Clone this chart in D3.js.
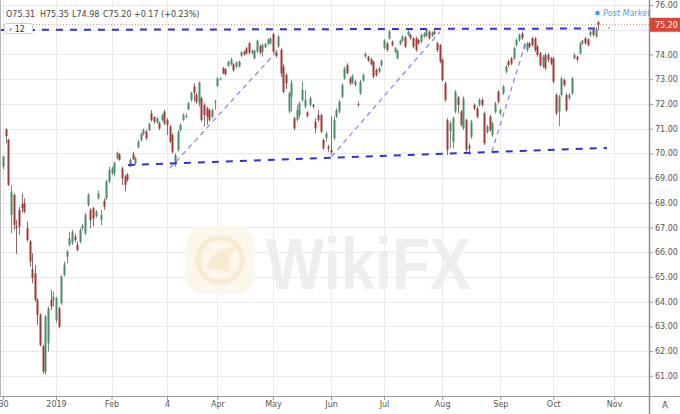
<!DOCTYPE html>
<html><head><meta charset="utf-8">
<script src="https://cdn.jsdelivr.net/npm/d3@7/dist/d3.min.js"></script>
<style>html,body{margin:0;padding:0;background:#fff;} svg{display:block;font-family:"DejaVu Sans",sans-serif;}</style>
</head><body><svg id="c" width="680" height="414"></svg>
<script>
// ---- data (bar index 0 = 30 Nov 2018, one bar per trading day) ----
const open = [
69.46,70.97,70.54,67.51,68.32,67.05,67.71,67.95,67.98,66.97,
66.43,65.31,65.15,64.07,63.46,62.19,61.17,62.32,64.07,64.07,
63.26,63.73,63.94,65.08,65.82,66.30,66.36,66.63,66.30,66.43,
66.97,66.77,67.91,67.71,67.78,67.47,68.18,67.31,68.09,68.18,
68.86,69.19,69.19,69.80,69.96,69.39,69.06,69.13,69.46,69.96,
69.60,70.24,70.54,70.78,70.88,70.94,71.62,71.46,71.24,71.21,
71.35,71.69,71.35,71.08,70.74,69.60,70.14,70.94,71.35,71.48,
71.78,72.16,72.70,72.36,72.02,72.23,71.96,71.82,71.75,71.48,
72.07,72.72,73.00,73.44,73.40,73.53,73.60,73.60,73.51,73.51,
73.95,74.11,74.25,74.45,74.05,73.84,74.11,74.34,74.11,74.29,
74.42,74.45,74.83,74.11,74.32,74.18,73.51,73.17,71.69,72.29,
71.42,71.35,71.55,72.16,71.89,71.65,71.96,71.96,71.28,71.55,
71.55,70.54,70.61,70.27,70.14,70.61,71.48,71.69,72.29,73.03,
73.57,73.03,72.86,72.76,71.99,72.43,72.94,73.91,73.91,73.80,
73.71,73.37,73.30,73.57,74.25,74.45,74.65,74.52,74.11,73.84,
74.42,74.56,74.69,74.79,74.79,74.65,74.65,74.58,74.52,74.72,
74.75,74.92,74.75,74.92,74.45,74.38,73.78,72.83,71.35,70.90,
70.47,71.69,72.27,71.69,71.01,71.35,70.30,70.67,71.96,71.82,
71.96,72.16,71.62,70.85,71.48,70.74,71.69,72.49,71.62,72.43,
73.30,73.71,73.84,73.84,74.38,74.58,74.85,74.25,74.18,74.45,
74.65,74.65,74.32,74.05,73.51,73.98,73.98,73.84,73.84,72.36,
71.69,72.36,72.97,72.36,72.23,72.43,73.84,73.91,74.05,74.45,
74.65,74.61,74.79,74.99,74.72,75.31];
const high = [
69.89,71.01,70.60,68.72,68.38,67.30,67.84,68.38,68.18,67.24,
66.50,65.96,65.49,64.14,63.53,62.25,63.46,63.80,64.47,64.40,
64.20,63.80,65.08,65.62,66.09,66.83,66.90,66.75,66.43,66.97,
67.15,67.58,68.38,67.78,67.84,67.71,68.49,67.71,68.18,68.92,
69.46,69.46,69.66,70.07,70.00,69.46,69.13,69.20,69.80,70.07,
69.87,70.54,70.85,71.00,70.95,71.24,71.75,71.50,71.46,71.28,
71.60,71.75,71.42,71.15,70.81,70.00,70.94,71.21,71.62,71.62,
72.09,72.49,72.83,72.45,72.90,72.29,72.02,71.89,71.80,71.82,
72.16,73.07,73.07,73.50,73.45,73.75,73.86,73.65,73.72,73.75,
74.12,74.16,74.30,74.50,74.20,74.20,74.60,74.40,74.45,74.47,
74.65,74.70,74.88,74.18,74.78,74.25,73.60,73.24,72.49,72.97,
71.48,71.96,72.09,72.90,72.56,71.70,72.30,72.00,71.42,71.75,
71.60,70.61,70.88,70.34,71.50,71.48,71.82,72.16,72.83,73.50,
73.64,73.10,73.20,72.97,72.09,72.97,73.24,74.09,73.95,73.86,
73.75,73.44,73.50,73.80,74.62,74.50,74.98,74.56,74.30,74.20,
74.60,74.78,74.75,74.98,74.85,74.70,74.72,74.65,74.85,74.90,
75.06,74.97,74.93,74.98,74.50,74.42,73.84,72.90,71.42,71.30,
71.48,72.56,72.32,71.75,72.30,71.40,70.40,71.35,72.02,71.89,
72.23,72.23,71.69,71.15,71.55,71.28,72.09,72.56,71.82,72.76,
73.57,73.78,73.90,74.30,74.65,74.85,74.92,74.45,74.50,74.50,
74.70,74.70,74.38,74.10,73.98,74.05,74.05,73.90,73.90,72.43,
72.36,73.10,73.03,72.43,72.43,73.10,74.05,73.95,74.50,74.60,
74.72,74.65,74.98,75.05,75.10,75.35];
const low = [
69.36,70.41,68.68,66.77,66.90,65.93,66.70,67.60,67.57,66.43,
65.42,64.74,64.00,63.06,62.19,61.10,61.04,61.98,63.66,63.80,
63.13,62.92,63.87,65.02,65.55,66.23,66.30,66.40,66.03,66.36,
66.90,66.70,67.84,66.97,67.04,67.40,68.14,67.10,67.71,68.11,
68.79,69.13,69.06,69.76,69.70,68.72,68.45,68.86,69.46,69.73,
69.53,70.20,70.47,70.72,70.54,70.90,71.28,71.20,71.20,70.94,
71.30,71.15,70.74,70.41,70.00,69.46,70.07,70.88,71.30,71.42,
71.75,72.09,72.09,72.00,71.89,71.28,71.08,71.15,71.28,71.42,
71.75,72.70,72.95,73.20,73.15,73.50,73.55,73.30,73.45,73.48,
73.90,73.95,74.00,74.00,74.00,73.80,74.05,74.00,73.91,74.25,
74.38,74.40,74.05,73.88,74.25,73.10,72.42,72.60,71.62,71.69,
70.94,71.28,71.42,72.09,71.82,71.45,71.90,71.82,70.81,71.28,
70.81,70.14,70.47,70.07,69.93,70.54,71.42,71.62,72.23,72.97,
73.20,72.76,72.80,72.70,71.89,72.36,72.90,73.86,73.70,73.55,
73.03,73.10,73.24,73.50,74.20,74.11,74.60,74.32,74.05,73.80,
74.38,74.50,74.25,74.74,74.60,74.25,74.11,74.40,74.45,74.68,
74.70,74.60,74.70,74.78,74.10,73.64,72.90,72.09,69.93,70.20,
70.20,71.62,71.62,71.08,70.94,70.07,69.93,70.60,71.75,71.42,
71.89,71.89,70.34,70.80,70.88,70.67,71.62,72.02,71.55,72.36,
73.24,73.50,73.57,73.78,74.32,74.52,74.60,74.20,74.11,74.25,
74.30,74.10,73.90,73.50,73.44,73.37,73.70,73.57,72.83,71.55,
71.10,72.29,72.70,71.69,72.16,72.36,73.80,73.70,73.98,74.40,
74.40,74.32,74.72,74.72,74.68,74.98];
const close = [
69.87,70.70,68.72,68.45,67.10,66.98,67.04,67.78,67.64,66.50,
65.62,64.95,64.07,63.46,62.25,61.17,63.40,63.73,63.80,64.20,
64.14,62.99,65.02,65.49,66.03,66.56,66.83,66.50,66.09,66.90,
67.06,67.51,68.32,67.31,67.37,67.64,68.38,67.51,67.84,68.86,
69.33,69.39,69.60,70.03,69.73,68.99,68.72,68.92,69.73,69.76,
69.80,70.47,70.78,70.95,70.61,71.19,71.35,71.28,71.42,71.01,
71.55,71.21,71.15,70.47,70.07,69.93,70.88,71.15,71.55,71.52,
72.02,72.45,72.45,72.09,72.86,71.35,71.55,71.48,71.35,71.75,
72.11,73.03,73.03,73.24,73.20,73.71,73.80,73.37,73.67,73.71,
74.09,74.00,74.05,74.07,74.15,74.15,74.56,74.07,74.38,74.42,
74.61,74.65,74.11,73.94,74.72,73.24,72.49,72.83,72.43,72.83,
71.01,71.75,72.02,72.56,72.16,71.51,72.23,71.89,71.01,71.35,
70.88,70.20,70.81,70.20,70.04,71.35,71.75,72.09,72.76,73.44,
73.24,72.83,73.13,72.90,71.96,72.90,73.17,74.02,73.75,73.61,
73.10,73.17,73.44,73.75,74.56,74.18,74.92,74.38,74.25,74.15,
74.56,74.72,74.32,74.92,74.65,74.32,74.18,74.45,74.79,74.85,
75.02,74.65,74.88,74.83,74.18,73.71,72.97,72.16,70.14,71.21,
71.42,72.49,71.96,71.15,72.23,70.14,70.20,71.28,71.82,71.48,
72.16,71.96,70.41,71.08,70.94,71.21,72.02,72.09,71.75,72.70,
73.51,73.57,73.64,74.25,74.58,74.79,74.65,74.38,74.45,74.32,
74.38,74.18,73.98,73.57,73.91,73.44,73.78,73.64,72.90,71.62,
72.29,73.03,72.76,71.75,72.36,73.03,73.98,73.80,74.45,74.56,
74.45,74.38,74.92,74.79,75.03,75.20];

const priceTicks = [61,62,63,64,65,66,67,68,69,70,71,72,73,74,75,76];
const timeTicks  = [0,20,41,62,81,102,124,144,166,188,208,231];
const timeLabels = ["30","2019","Feb","4","Apr","May","Jun","Jul","Aug","Sep","Oct","Nov"];
const resistance = [[-1.2,74.99],[224.9,75.05]];
const support    = [[47.2,69.53],[228.3,70.22]];
const swing1 = [[63.1,69.40],[103.4,74.11]];
const swing2 = [[124.2,69.87],[165.2,74.92]];
const swing3 = [[184.8,70.07],[197.7,74.52]];
const lastPrice = 75.20;
const headerText = ["O75.31","H75.35","L74.98","C75.20","+0.17 (+0.23%)"];

// ---- drawing ----
const svg = d3.select("#c");
const W = 680, H = 414, plotR = 649, plotB = 396;
const x = d3.scaleLinear().domain([0,231]).range([3.1,614.1]);
const y = d3.scaleLinear().domain([61,76]).range([375.8,5]);

svg.append("rect").attr("width",W).attr("height",H).attr("fill","#fff");
svg.append("defs").append("clipPath").attr("id","plot")
  .append("rect").attr("x",0).attr("y",0).attr("width",plotR).attr("height",plotB);

const plot = svg.append("g").attr("clip-path","url(#plot)");

// grid
plot.selectAll(".hg").data(priceTicks).join("line")
  .attr("x1",0).attr("x2",plotR).attr("y1",d=>Math.round(y(d))+0.5).attr("y2",d=>Math.round(y(d))+0.5)
  .attr("stroke","#eaeaea").attr("stroke-width",1);
plot.selectAll(".vg").data(timeTicks).join("line")
  .attr("y1",0).attr("y2",plotB).attr("x1",d=>Math.round(x(d))+0.5).attr("x2",d=>Math.round(x(d))+0.5)
  .attr("stroke","#eaeaea").attr("stroke-width",1);

// watermark
const wm = plot.append("g");
wm.append("rect").attr("x",186).attr("y",226).attr("width",68).attr("height",68).attr("rx",18)
  .attr("fill","#fdf6ea");
wm.append("circle").attr("cx",220).attr("cy",260).attr("r",22).attr("fill","none")
  .attr("stroke","#f8ebd3").attr("stroke-width",5);
wm.append("path").attr("d","M206,268 Q214,246 236,248 Q226,256 230,272 Z").attr("fill","#f8ebd3");
wm.append("text").attr("x",266).attr("y",289).attr("font-family","'Liberation Sans',Arial,sans-serif")
  .attr("font-weight","bold").attr("font-size",72).attr("fill","#eeeeee")
  .attr("textLength",205).attr("lengthAdjust","spacingAndGlyphs").text("WikiFX");

// last price dotted line
plot.append("line").attr("x1",0).attr("x2",plotR).attr("y1",y(lastPrice)).attr("y2",y(lastPrice))
  .attr("stroke","#e0806f").attr("stroke-width",1).attr("stroke-dasharray","1,2");

// candles
const idx = d3.range(open.length);
const up = i => close[i] >= open[i];
const green = "#4b8c69", red = "#a03a36";
plot.selectAll(".wick").data(idx).join("line")
  .attr("x1",i=>Math.round(x(i))+0.5).attr("x2",i=>Math.round(x(i))+0.5)
  .attr("y1",i=>y(high[i])).attr("y2",i=>y(low[i]))
  .attr("stroke",i=>up(i)?"#6f8f80":"#8a6a68").attr("stroke-width",1);
plot.selectAll(".body").data(idx).join("rect")
  .attr("x",i=>Math.round(x(i))-0.5).attr("width",2)
  .attr("y",i=>y(Math.max(open[i],close[i])))
  .attr("height",i=>Math.max(1,Math.abs(y(open[i])-y(close[i]))))
  .attr("fill",i=>up(i)?green:red);

// trend lines
const ln = d3.line().x(d=>x(d[0])).y(d=>y(d[1]));
[swing1,swing2,swing3].forEach(s=>{
  plot.append("path").attr("d",ln(s)).attr("fill","none").attr("stroke","#8c8ce6")
    .attr("stroke-width",1.3).attr("stroke-dasharray","5,4");
});
[resistance,support].forEach(s=>{
  plot.append("path").attr("d",ln(s)).attr("fill","none").attr("stroke","#3434c8")
    .attr("stroke-width",2).attr("stroke-dasharray","7,7");
});

// right axis (the 75.00 label sits under the last-price tag)
const ya = d3.axisRight(y).tickValues(priceTicks).tickSize(4).tickPadding(2)
  .tickFormat(d => d === 75 ? "" : d3.format(".2f")(d));
const yg = svg.append("g").attr("transform",`translate(${plotR},0)`).call(ya);
yg.select(".domain").remove();
yg.selectAll("line").attr("stroke","#9a9a9a");
yg.selectAll("text").attr("font-size",8).attr("fill","#555").attr("font-family","'DejaVu Sans',sans-serif");

// bottom axis
const xa = d3.axisBottom(x).tickValues(timeTicks).tickSize(4).tickPadding(1)
  .tickFormat((d,i)=>timeLabels[i]);
const xg = svg.append("g").attr("transform",`translate(0,${plotB})`).call(xa);
xg.select(".domain").remove();
xg.selectAll("line").attr("stroke","#9a9a9a");
xg.selectAll("text").attr("font-size",8).attr("fill","#555").attr("font-family","'DejaVu Sans',sans-serif");

// frame lines
svg.append("line").attr("x1",0).attr("x2",W).attr("y1",plotB+0.5).attr("y2",plotB+0.5).attr("stroke","#9a9a9a");
svg.append("line").attr("x1",plotR+0.5).attr("x2",plotR+0.5).attr("y1",0).attr("y2",H).attr("stroke","#8f8f8f").attr("stroke-width",1.5);
svg.append("line").attr("x1",0.5).attr("x2",0.5).attr("y1",0).attr("y2",plotB).attr("stroke","#b5b5b5");

// last price label
svg.append("rect").attr("x",plotR+1).attr("y",y(lastPrice)-7).attr("width",W-plotR-1).attr("height",14)
  .attr("fill","#d5473b");
svg.append("text").attr("x",655).attr("y",y(lastPrice)+3).attr("font-size",8).attr("fill","#fff")
  .text(d3.format(".2f")(lastPrice));

// header
const hx = [6,40,72,103,134];
svg.selectAll(".hdr").data(headerText).join("text")
  .attr("x",(d,i)=>hx[i]).attr("y",16.5).attr("font-size",8).attr("fill","#444").text(d=>d);

// interval box
svg.append("rect").attr("x",4.5).attr("y",23.5).attr("width",28).attr("height",10).attr("rx",2)
  .attr("fill","#fff").attr("stroke","#cfcfcf");
svg.append("text").attr("x",9).attr("y",31.5).attr("font-size",8).attr("fill","#333").text("› 12");

// post market legend
svg.append("circle").attr("cx",597.5).attr("cy",13).attr("r",2.3).attr("fill","#3d9be9");
svg.append("text").attr("x",603).attr("y",16).attr("font-size",8).attr("font-style","italic")
  .attr("fill","#4aa3e6").text("Post Market");
svg.append("circle").attr("cx",609).attr("cy",28).attr("r",0.9).attr("fill","#999");

// auto-scale button
svg.append("circle").attr("cx",665).attr("cy",405).attr("r",6).attr("fill","#f2f2f2");
svg.append("text").attr("x",665).attr("y",408).attr("text-anchor","middle").attr("font-size",8)
  .attr("fill","#555").text("A");
</script></body></html>
